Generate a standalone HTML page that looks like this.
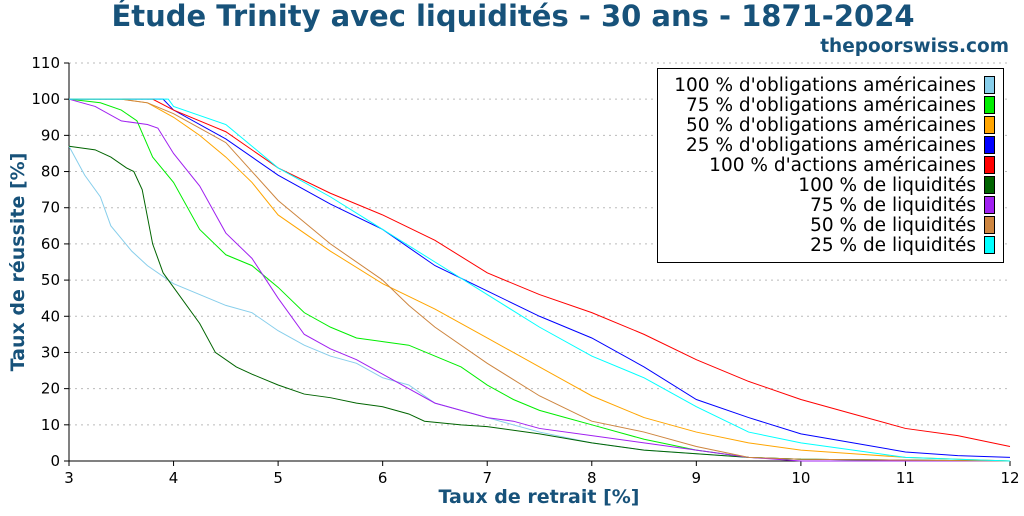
<!DOCTYPE html>
<html><head><meta charset="utf-8"><style>
body{margin:0;background:#fff;font-family:"DejaVu Sans",sans-serif}
svg text{font-family:"DejaVu Sans",sans-serif}
</style></head><body>
<svg id="c" width="1024" height="512" xmlns="http://www.w3.org/2000/svg">
<text x="513" y="26" text-anchor="middle" font-size="29" font-weight="bold" fill="#17527a">Étude Trinity avec liquidités - 30 ans - 1871-2024</text>
<text x="1009" y="52" text-anchor="end" font-size="18.5" font-weight="bold" fill="#17527a">thepoorswiss.com</text>
<text x="539" y="503" text-anchor="middle" font-size="19" font-weight="bold" fill="#17527a">Taux de retrait [%]</text>
<text transform="translate(24,262) rotate(-90)" text-anchor="middle" font-size="19" font-weight="bold" fill="#17527a">Taux de réussite [%]</text>
<g id="grid"></g><g id="axes"></g><g id="lines"></g><g id="legend"></g>
</svg>
<script>
const xTicks=[3,4,5,6,7,8,9,10,11,12];
const yTicks=[0,10,20,30,40,50,60,70,80,90,100,110];
const seriesNames=["100 % d'obligations américaines","75 % d'obligations américaines","50 % d'obligations américaines","25 % d'obligations américaines","100 % d'actions américaines","100 % de liquidités","75 % de liquidités","50 % de liquidités","25 % de liquidités"];
const seriesColors=["#87ceeb","#00ee00","#ffa500","#0000ff","#ff0000","#006400","#a020f0","#cd853f","#00ffff"];
const bond100X=[3,3.15,3.3,3.4,3.6,3.75,4,4.25,4.5,4.75,5,5.25,5.5,5.75,6,6.25,6.5,6.75,7,7.5,8,8.5,9,9.5,10,12];
const bond100Y=[87,79,73,65,58,54,49,46,43,41,36,32,29,27,23,21,16,14,12,8,5,3,2,1,0.5,0];
const bond75X=[3,3.3,3.5,3.65,3.8,4,4.25,4.5,4.75,5,5.25,5.5,5.75,6,6.25,6.5,6.75,7,7.25,7.5,7.75,8,8.5,9,9.5,10,12];
const bond75Y=[100,99,97,94,84,77,64,57,54,48,41,37,34,33,32,29,26,21,17,14,12,10,6,3,1,0.5,0];
const bond50X=[3,3.5,3.75,4,4.25,4.5,4.75,5,5.5,6,6.5,7,7.5,8,8.5,9,9.5,10,10.5,11,12];
const bond50Y=[100,100,99,95,90,84,77,68,58,49,42,34,26,18,12,8,5,3,2,1,0];
const bond25X=[3,3.9,4,4.5,5,5.5,6,6.5,7,7.5,8,8.5,9,9.5,10,10.5,11,11.5,12];
const bond25Y=[100,100,97,89,79,71,64,54,47,40,34,26,17,12,7.5,5,2.5,1.5,1];
const stocksX=[3,3.8,4,4.5,5,5.5,6,6.5,7,7.5,8,8.5,9,9.5,10,10.5,11,11.5,12];
const stocksY=[100,100,97,91,81,74,68,61,52,46,41,35,28,22,17,13,9,7,4];
const cash100X=[3,3.25,3.4,3.55,3.62,3.7,3.8,3.9,4,4.25,4.4,4.6,4.75,5,5.25,5.5,5.75,6,6.25,6.4,6.75,7,7.5,8,8.5,9,9.5,10,12];
const cash100Y=[87,86,84,81,80,75,60,52,48,38,30,26,24,21,18.5,17.5,16,15,13,11,10,9.5,7.5,5,3,2,1,0.5,0];
const cash75X=[3,3.25,3.5,3.75,3.85,4,4.25,4.5,4.75,5,5.25,5.5,5.75,6,6.25,6.5,6.75,7,7.25,7.5,8,8.5,9,9.5,10,12];
const cash75Y=[100,98,94,93,92,85,76,63,56,45,35,31,28,24,20,16,14,12,11,9,7,5,3,1,0,0];
const cash50X=[3,3.5,3.75,4,4.5,4.75,5,5.5,6,6.25,6.5,7,7.5,8,8.5,9,9.5,10,12];
const cash50Y=[100,100,99,96,88,80,72,60,50,43,37,27,18,11,8,4,1,0.5,0];
const cash25X=[3,3.95,4,4.5,5,5.5,6,6.5,7,7.5,8,8.5,9,9.5,10,10.5,11,11.5,12];
const cash25Y=[100,100,98,93,81,73,64,55,46,37,29,23,15,8,5,3,1,0.5,0];
const allX=[bond100X,bond75X,bond50X,bond25X,stocksX,cash100X,cash75X,cash50X,cash25X];
const allY=[bond100Y,bond75Y,bond50Y,bond25Y,stocksY,cash100Y,cash75Y,cash50Y,cash25Y];
const NS="http://www.w3.org/2000/svg";
const L=69,R=1010,T=63,B=461;
const sx=v=>L+(v-3)/9*(R-L), sy=v=>B-v/110*(B-T);
function mk(tag,attrs,parent){const e=document.createElementNS(NS,tag);for(const k in attrs)e.setAttribute(k,attrs[k]);parent.appendChild(e);return e;}
const grid=document.getElementById('grid'),axes=document.getElementById('axes'),lines=document.getElementById('lines'),legend=document.getElementById('legend');
yTicks.forEach(v=>{
 const g=mk('line',{x1:L,x2:R,y1:sy(v),y2:sy(v),stroke:'#bbb','stroke-dasharray':'2,4','stroke-width':1},grid);
 
 
 const t=mk('line',{x1:L-5,x2:L,y1:sy(v),y2:sy(v),stroke:'#000'},axes);
 
 
 const lb=mk('text',{x:L-9,y:sy(v)+5,'text-anchor':'end','font-size':15},axes);lb.textContent=v;
 
 
});
xTicks.forEach(v=>{
 const t=mk('line',{x1:sx(v),x2:sx(v),y1:B,y2:B+5,stroke:'#000'},axes);
 
 
 const lb=mk('text',{x:sx(v),y:B+22,'text-anchor':'middle','font-size':15},axes);lb.textContent=v;
 
 
});
const ax=mk('path',{d:`M${L},${T}V${B}H${R}`,fill:'none',stroke:'#000'},axes);


allX.forEach((xs,i)=>{
 const pts=xs.map((x,j)=>sx(x)+','+sy(allY[i][j])).join(' ');
 const p=mk('polyline',{points:pts,fill:'none',stroke:seriesColors[i],'stroke-width':1},lines);
 
 
});
const box=mk('rect',{x:657.5,y:68.5,width:346,height:194,fill:'#fff',stroke:'#000'},legend);


seriesNames.forEach((n,i)=>{
 const y=85+i*20;
 const t=mk('text',{x:976,y:y+6,'text-anchor':'end','font-size':18.5},legend);t.textContent=n;
 
 
 const s=mk('rect',{x:984.5,y:y-8.5,width:10,height:17,fill:seriesColors[i],stroke:'#000'},legend);
 
 
});
</script>
</body></html>
